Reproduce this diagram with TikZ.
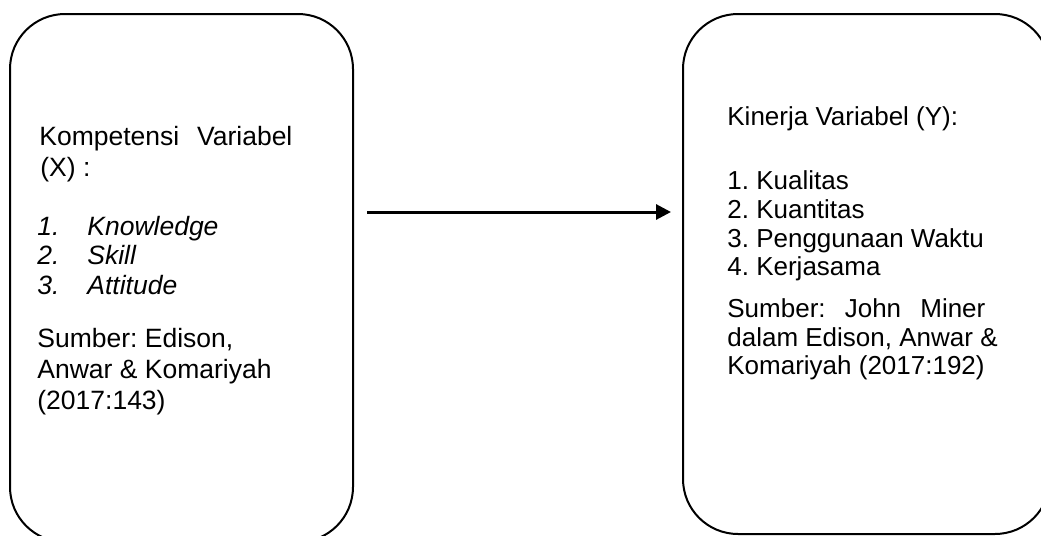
\documentclass[tikz,border=0pt]{standalone}
\usepackage{fontspec}
\setmainfont{Liberation Sans}
\usetikzlibrary{arrows.meta,positioning}

\tikzset{
  varbox/.style={draw, line width=1pt, rounded corners=27.5pt, inner sep=0pt},
  line/.style={anchor=base west, inner sep=0pt, font=\fontsize{13pt}{15.6pt}\selectfont\frenchspacing},
  lline/.style={line, font=\fontsize{13.25pt}{15.9pt}\selectfont\frenchspacing},
  link/.style={-{Triangle[length=7.5pt,width=7.5pt]}, line width=1.5pt},
}

\begin{document}
\begin{tikzpicture}[x=0.5pt,y=-0.5pt]
  \useasboundingbox (0,0) rectangle (1041,536);

  % the two variable boxes
  \node[varbox, minimum width=171.5pt, minimum height=264pt] (kbox) at (181.5,278) {};
  \node[varbox, minimum width=183.5pt, minimum height=260pt] (ybox) at (866.5,274) {};

  % Kompetensi (X)
  \node[lline] (k1) at (39,145) {\makebox[126.5pt][s]{Kompetensi Variabel}};
  \node[lline] (k2) at (40,176) {(X) :};
  \node[lline] (k3) at (37,235) {\makebox[25pt][l]{\itshape 1.}\textit{Knowledge}};
  \node[lline] (k4) at (37,264) {\makebox[25pt][l]{\itshape 2.}\textit{Skill}};
  \node[lline] (k5) at (37,294) {\makebox[25pt][l]{\itshape 3.}\textit{Attitude}};
  \node[lline] (k6) at (37,347) {Sumber: Edison,};
  \node[lline] (k7) at (37,378) {Anwar \& Komariyah};
  \node[lline] (k8) at (37,409) {(2017:143)};

  % Kinerja (Y)
  \node[line] (y1) at (727,125) {Kinerja Variabel (Y):};
  \node[line] (y2) at (727,189) {1. Kualitas};
  \node[line] (y3) at (727,218) {2. Kuantitas};
  \node[line] (y4) at (727,247) {3. Penggunaan Waktu};
  \node[line] (y5) at (727,275) {4. Kerjasama};
  \node[line] (y6) at (727,317) {\makebox[129pt][s]{Sumber: John Miner}};
  \node[line] (y7) at (727,346) {dalam Edison, Anwar \&};
  \node[line] (y8) at (727,374) {Komariyah (2017:192)};

  \coordinate (mid) at (0,212);
  \draw[link, shorten <=6.5pt, shorten >=5.5pt] (kbox.east |- mid) -- (ybox.west |- mid);
\end{tikzpicture}
\end{document}
